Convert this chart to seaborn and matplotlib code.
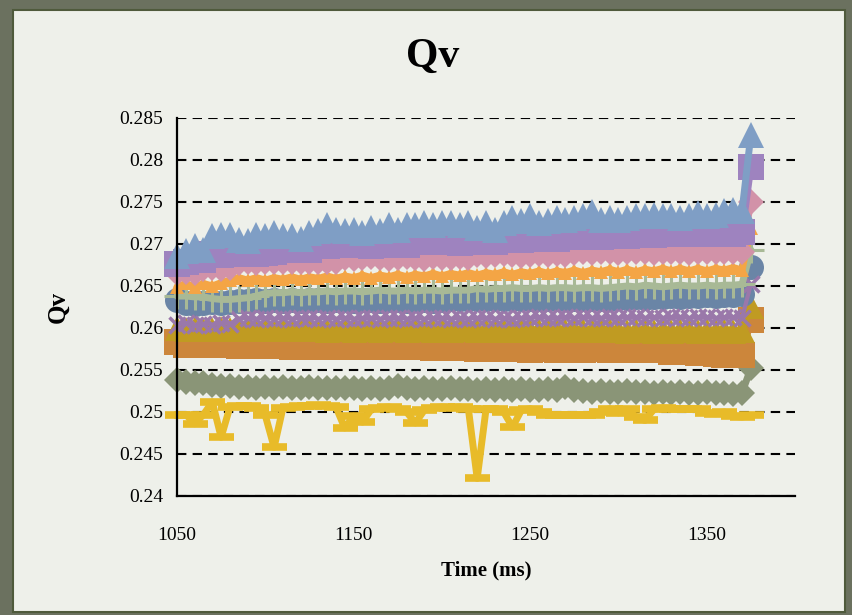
import matplotlib
matplotlib.use("Agg")
import matplotlib.pyplot as plt
import seaborn as sns
from matplotlib.patches import Rectangle
from matplotlib.ticker import FixedLocator, FuncFormatter

sns.set_style("white")
plt.rcParams['font.family'] = ['Liberation Serif', 'DejaVu Serif']
plt.rcParams['text.color'] = 'black'
plt.rcParams['axes.labelcolor'] = 'black'

# sample times (every 5 ms)
time_ms = list(range(1050, 1380, 5))

qv_blue = [0.2686, 0.2692, 0.2698, 0.2693, 0.2710, 0.2711, 0.2711, 0.2705, 0.2704, 0.2711, 0.2710,
           0.2713, 0.2710, 0.2710, 0.2706, 0.2713, 0.2715, 0.2723, 0.2717, 0.2716, 0.2717, 0.2713,
           0.2719, 0.2716, 0.2723, 0.2717, 0.2723, 0.2723, 0.2725, 0.2723, 0.2725, 0.2725, 0.2723,
           0.2725, 0.2719, 0.2725, 0.2717, 0.2725, 0.2731, 0.2727, 0.2733, 0.2725, 0.2727, 0.2731,
           0.2729, 0.2731, 0.2733, 0.2738, 0.2729, 0.2731, 0.2729, 0.2731, 0.2733, 0.2733, 0.2735,
           0.2733, 0.2733, 0.2731, 0.2733, 0.2737, 0.2733, 0.2735, 0.2739, 0.2740, 0.2739, 0.2830]

qv_purple = [0.2676, 0.2678, 0.2681, 0.2681, 0.2688, 0.2687, 0.2688, 0.2689, 0.2688, 0.2688, 0.2689,
             0.2690, 0.2693, 0.2693, 0.2694, 0.2693, 0.2699, 0.2698, 0.2699, 0.2700, 0.2699, 0.2699,
             0.2698, 0.2699, 0.2700, 0.2699, 0.2699, 0.2702, 0.2702, 0.2703, 0.2702, 0.2702, 0.2701,
             0.2702, 0.2703, 0.2702, 0.2702, 0.2706, 0.2706, 0.2705, 0.2706, 0.2707, 0.2706, 0.2706,
             0.2708, 0.2708, 0.2709, 0.2708, 0.2708, 0.2711, 0.2711, 0.2710, 0.2711, 0.2711, 0.2711,
             0.2712, 0.2712, 0.2713, 0.2712, 0.2712, 0.2713, 0.2712, 0.2713, 0.2712, 0.2714, 0.2792]

qv_pink = [0.2665, 0.2667, 0.2666, 0.2670, 0.2671, 0.2670, 0.2672, 0.2677, 0.2678, 0.2677, 0.2679,
           0.2678, 0.2679, 0.2678, 0.2679, 0.2678, 0.2679, 0.2678, 0.2679, 0.2683, 0.2682, 0.2683,
           0.2684, 0.2683, 0.2682, 0.2683, 0.2684, 0.2683, 0.2682, 0.2684, 0.2683, 0.2683, 0.2684,
           0.2683, 0.2687, 0.2686, 0.2687, 0.2688, 0.2687, 0.2686, 0.2687, 0.2688, 0.2687, 0.2688,
           0.2687, 0.2689, 0.2690, 0.2689, 0.2690, 0.2691, 0.2689, 0.2690, 0.2691, 0.2690, 0.2689,
           0.2690, 0.2691, 0.2690, 0.2689, 0.2690, 0.2691, 0.2690, 0.2691, 0.2690, 0.2691, 0.2750]

qv_orange = [0.2649, 0.2653, 0.2649, 0.2653, 0.2650, 0.2654, 0.2657, 0.2660, 0.2657, 0.2660, 0.2657,
             0.2660, 0.2658, 0.2661, 0.2658, 0.2661, 0.2659, 0.2662, 0.2659, 0.2662, 0.2660, 0.2663,
             0.2660, 0.2663, 0.2661, 0.2664, 0.2661, 0.2664, 0.2662, 0.2665, 0.2662, 0.2665, 0.2663,
             0.2666, 0.2663, 0.2666, 0.2664, 0.2667, 0.2664, 0.2667, 0.2665, 0.2668, 0.2665, 0.2668,
             0.2666, 0.2669, 0.2666, 0.2669, 0.2667, 0.2670, 0.2667, 0.2670, 0.2667, 0.2670, 0.2668,
             0.2671, 0.2668, 0.2671, 0.2668, 0.2671, 0.2668, 0.2671, 0.2669, 0.2672, 0.2669, 0.2719]

qv_green = [0.2638, 0.2638, 0.2637, 0.2637, 0.2635, 0.2634, 0.2634, 0.2635, 0.2636, 0.2638, 0.2641,
            0.2642, 0.2642, 0.2643, 0.2642, 0.2643, 0.2643, 0.2644, 0.2643, 0.2644, 0.2644, 0.2643,
            0.2644, 0.2645, 0.2644, 0.2644, 0.2645, 0.2644, 0.2645, 0.2645, 0.2644, 0.2645, 0.2645,
            0.2645, 0.2647, 0.2646, 0.2647, 0.2647, 0.2648, 0.2647, 0.2647, 0.2648, 0.2647, 0.2648,
            0.2648, 0.2647, 0.2648, 0.2648, 0.2647, 0.2648, 0.2649, 0.2650, 0.2649, 0.2651, 0.2650,
            0.2649, 0.2650, 0.2651, 0.2650, 0.2650, 0.2651, 0.2650, 0.2651, 0.2651, 0.2652, 0.2693]

qv_slate = [0.2633, 0.2630, 0.2629, 0.2630, 0.2631, 0.2630, 0.2631, 0.2632, 0.2632, 0.2633, 0.2632,
            0.2633, 0.2632, 0.2633, 0.2632, 0.2633, 0.2633, 0.2632, 0.2633, 0.2633, 0.2632, 0.2633,
            0.2633, 0.2632, 0.2633, 0.2633, 0.2632, 0.2633, 0.2633, 0.2632, 0.2633, 0.2634, 0.2634,
            0.2635, 0.2634, 0.2634, 0.2635, 0.2634, 0.2635, 0.2635, 0.2634, 0.2635, 0.2635, 0.2634,
            0.2635, 0.2635, 0.2634, 0.2635, 0.2635, 0.2635, 0.2636, 0.2636, 0.2637, 0.2636, 0.2637,
            0.2637, 0.2638, 0.2637, 0.2638, 0.2638, 0.2639, 0.2638, 0.2639, 0.2639, 0.2640, 0.2673]

qv_violet = [0.2604, 0.2606, 0.2603, 0.2605, 0.2604, 0.2606, 0.2605, 0.2611, 0.2612, 0.2611, 0.2612,
             0.2611, 0.2612, 0.2611, 0.2612, 0.2612, 0.2611, 0.2612, 0.2611, 0.2612, 0.2611, 0.2612,
             0.2612, 0.2611, 0.2612, 0.2612, 0.2611, 0.2612, 0.2611, 0.2612, 0.2612, 0.2611, 0.2612,
             0.2611, 0.2612, 0.2612, 0.2611, 0.2612, 0.2611, 0.2612, 0.2612, 0.2613, 0.2612, 0.2612,
             0.2613, 0.2612, 0.2613, 0.2612, 0.2612, 0.2613, 0.2612, 0.2613, 0.2613, 0.2612, 0.2613,
             0.2612, 0.2613, 0.2613, 0.2612, 0.2613, 0.2613, 0.2612, 0.2613, 0.2613, 0.2612, 0.2652]

qv_gold = [0.2600, 0.2599, 0.2600, 0.2599, 0.2599, 0.2600, 0.2599, 0.2600, 0.2599, 0.2599, 0.2600,
           0.2599, 0.2600, 0.2599, 0.2599, 0.2600, 0.2599, 0.2598, 0.2599, 0.2599, 0.2598, 0.2599,
           0.2599, 0.2598, 0.2599, 0.2599, 0.2598, 0.2599, 0.2599, 0.2598, 0.2599, 0.2598, 0.2599,
           0.2599, 0.2598, 0.2598, 0.2599, 0.2598, 0.2598, 0.2599, 0.2598, 0.2598, 0.2599, 0.2598,
           0.2598, 0.2599, 0.2598, 0.2598, 0.2599, 0.2598, 0.2598, 0.2597, 0.2598, 0.2598, 0.2597,
           0.2598, 0.2597, 0.2598, 0.2598, 0.2597, 0.2598, 0.2597, 0.2598, 0.2597, 0.2598, 0.2626]

qv_copper = [0.2583, 0.2580, 0.2580, 0.2580, 0.2580, 0.2580, 0.2580, 0.2579, 0.2578, 0.2578, 0.2578,
             0.2578, 0.2578, 0.2577, 0.2578, 0.2578, 0.2577, 0.2578, 0.2577, 0.2577, 0.2577, 0.2577,
             0.2577, 0.2577, 0.2578, 0.2577, 0.2577, 0.2577, 0.2577, 0.2576, 0.2577, 0.2576, 0.2576,
             0.2576, 0.2575, 0.2575, 0.2575, 0.2575, 0.2575, 0.2575, 0.2574, 0.2575, 0.2575, 0.2574,
             0.2575, 0.2575, 0.2574, 0.2575, 0.2575, 0.2574, 0.2575, 0.2574, 0.2574, 0.2575, 0.2574,
             0.2574, 0.2572, 0.2571, 0.2571, 0.2570, 0.2571, 0.2569, 0.2568, 0.2568, 0.2568, 0.2610]

qv_sage = [0.2538, 0.2536, 0.2535, 0.2534, 0.2532, 0.2531, 0.2531, 0.2530, 0.2530, 0.2529, 0.2530,
           0.2529, 0.2530, 0.2529, 0.2529, 0.2530, 0.2529, 0.2529, 0.2528, 0.2529, 0.2528, 0.2527,
           0.2528, 0.2527, 0.2528, 0.2531, 0.2528, 0.2527, 0.2528, 0.2527, 0.2527, 0.2528, 0.2527,
           0.2527, 0.2526, 0.2527, 0.2526, 0.2527, 0.2526, 0.2527, 0.2526, 0.2526, 0.2527, 0.2526,
           0.2530, 0.2526, 0.2525, 0.2524, 0.2525, 0.2524, 0.2524, 0.2525, 0.2524, 0.2524, 0.2523,
           0.2524, 0.2523, 0.2524, 0.2523, 0.2523, 0.2524, 0.2523, 0.2523, 0.2522, 0.2523, 0.2552]

qv_yellow = [0.2496, 0.2497, 0.2486, 0.2497, 0.2512, 0.2470, 0.2506, 0.2507, 0.2507, 0.2505, 0.2496,
             0.2458, 0.2505, 0.2506, 0.2507, 0.2507, 0.2508, 0.2507, 0.2506, 0.2481, 0.2495, 0.2488,
             0.2503, 0.2505, 0.2506, 0.2504, 0.2500, 0.2487, 0.2502, 0.2505, 0.2506, 0.2505, 0.2506,
             0.2504, 0.2421, 0.2503, 0.2504, 0.2500, 0.2482, 0.2502, 0.2504, 0.2500, 0.2497, 0.2496,
             0.2497, 0.2496, 0.2497, 0.2496, 0.2500, 0.2504, 0.2499, 0.2503, 0.2494, 0.2490, 0.2503,
             0.2505, 0.2504, 0.2503, 0.2504, 0.2503, 0.2499, 0.2498, 0.2500, 0.2495, 0.2494, 0.2496]

y_ticks = [0.24, 0.245, 0.25, 0.255, 0.26, 0.265, 0.27, 0.275, 0.28, 0.285]
x_ticks = [1050, 1150, 1250, 1350]

# drawn in this order (later ones sit on top), like the excel series order
series = [
    (qv_sage,   '#8a9577', 'D', 13.5, 0,   5),
    (qv_yellow, '#e8bb29', '_', 18,   5.5, 5),
    (qv_copper, '#cc863b', 's', 18.5, 0,   5),
    (qv_gold,   '#c09b22', '^', 18,   0,   5),
    (qv_slate,  '#6a85a6', 'o', 18,   0,   5),
    (qv_violet, '#9a78aa', 'x', 11,   2.5, 3),
    (qv_green,  '#a8b996', '+', 19,   2.2, 5),
    (qv_orange, '#f4a545', '^', 10,   0,   5),
    (qv_pink,   '#d292a8', 'D', 13.5, 0,   5),
    (qv_purple, '#9e83bf', 's', 19,   0,   5),
    (qv_blue,   '#7f9ec5', '^', 19,   0,   5),
]

fig = plt.figure(figsize=(8.52, 6.15), dpi=100)
fig.patch.set_facecolor('#6b715f')
fig.add_artist(Rectangle((13/852, 3/615), 832/852, 602/615, transform=fig.transFigure,
                         facecolor='#eef0ea', edgecolor='#4f5a3c', lw=1.5, zorder=0))

ax = fig.add_axes([177/852, 1 - 496/615, 618/852, 378/615])
ax.set_facecolor('#eef0ea')

for vals, col, mk, ms, mew, lw in series:
    sns.lineplot(x=time_ms, y=vals, ax=ax, color=col, marker=mk, markersize=ms,
                 markerfacecolor=col, markeredgecolor=col, markeredgewidth=mew,
                 linewidth=lw, legend=False, clip_on=False)

ax.set_xlim(1050, 1400)
ax.set_ylim(0.24, 0.285)
ax.xaxis.set_major_locator(FixedLocator(x_ticks))
ax.yaxis.set_major_locator(FixedLocator(y_ticks))
ax.yaxis.set_major_formatter(FuncFormatter(lambda v, p: f"{v:.3f}".rstrip('0')))

ax.set_axisbelow(True)
ax.yaxis.grid(True, color='black', linestyle=(0, (4.5, 3)), linewidth=1.5)
ax.xaxis.grid(False)

for s in ['top', 'right']:
    ax.spines[s].set_visible(False)
for s in ['left', 'bottom']:
    ax.spines[s].set_color('black')
    ax.spines[s].set_linewidth(1.6)
    ax.spines[s].set_zorder(3)

ax.tick_params(axis='y', direction='in', length=5, width=1.4, color='black',
               labelsize=14, pad=10, labelcolor='black')
ax.tick_params(axis='x', length=0, labelsize=14, pad=22, labelcolor='black')

ax.set_xlabel('Time (ms)', fontsize=15, fontweight='bold', labelpad=12, color='black')
ax.set_ylabel('Qv', fontsize=18, fontweight='bold', labelpad=36, color='black')
fig.text(0.508, 0.908, 'Qv', ha='center', va='center', fontsize=30, fontweight='bold',
         color='black')

fig.savefig('out.png', dpi=100, facecolor=fig.get_facecolor())
